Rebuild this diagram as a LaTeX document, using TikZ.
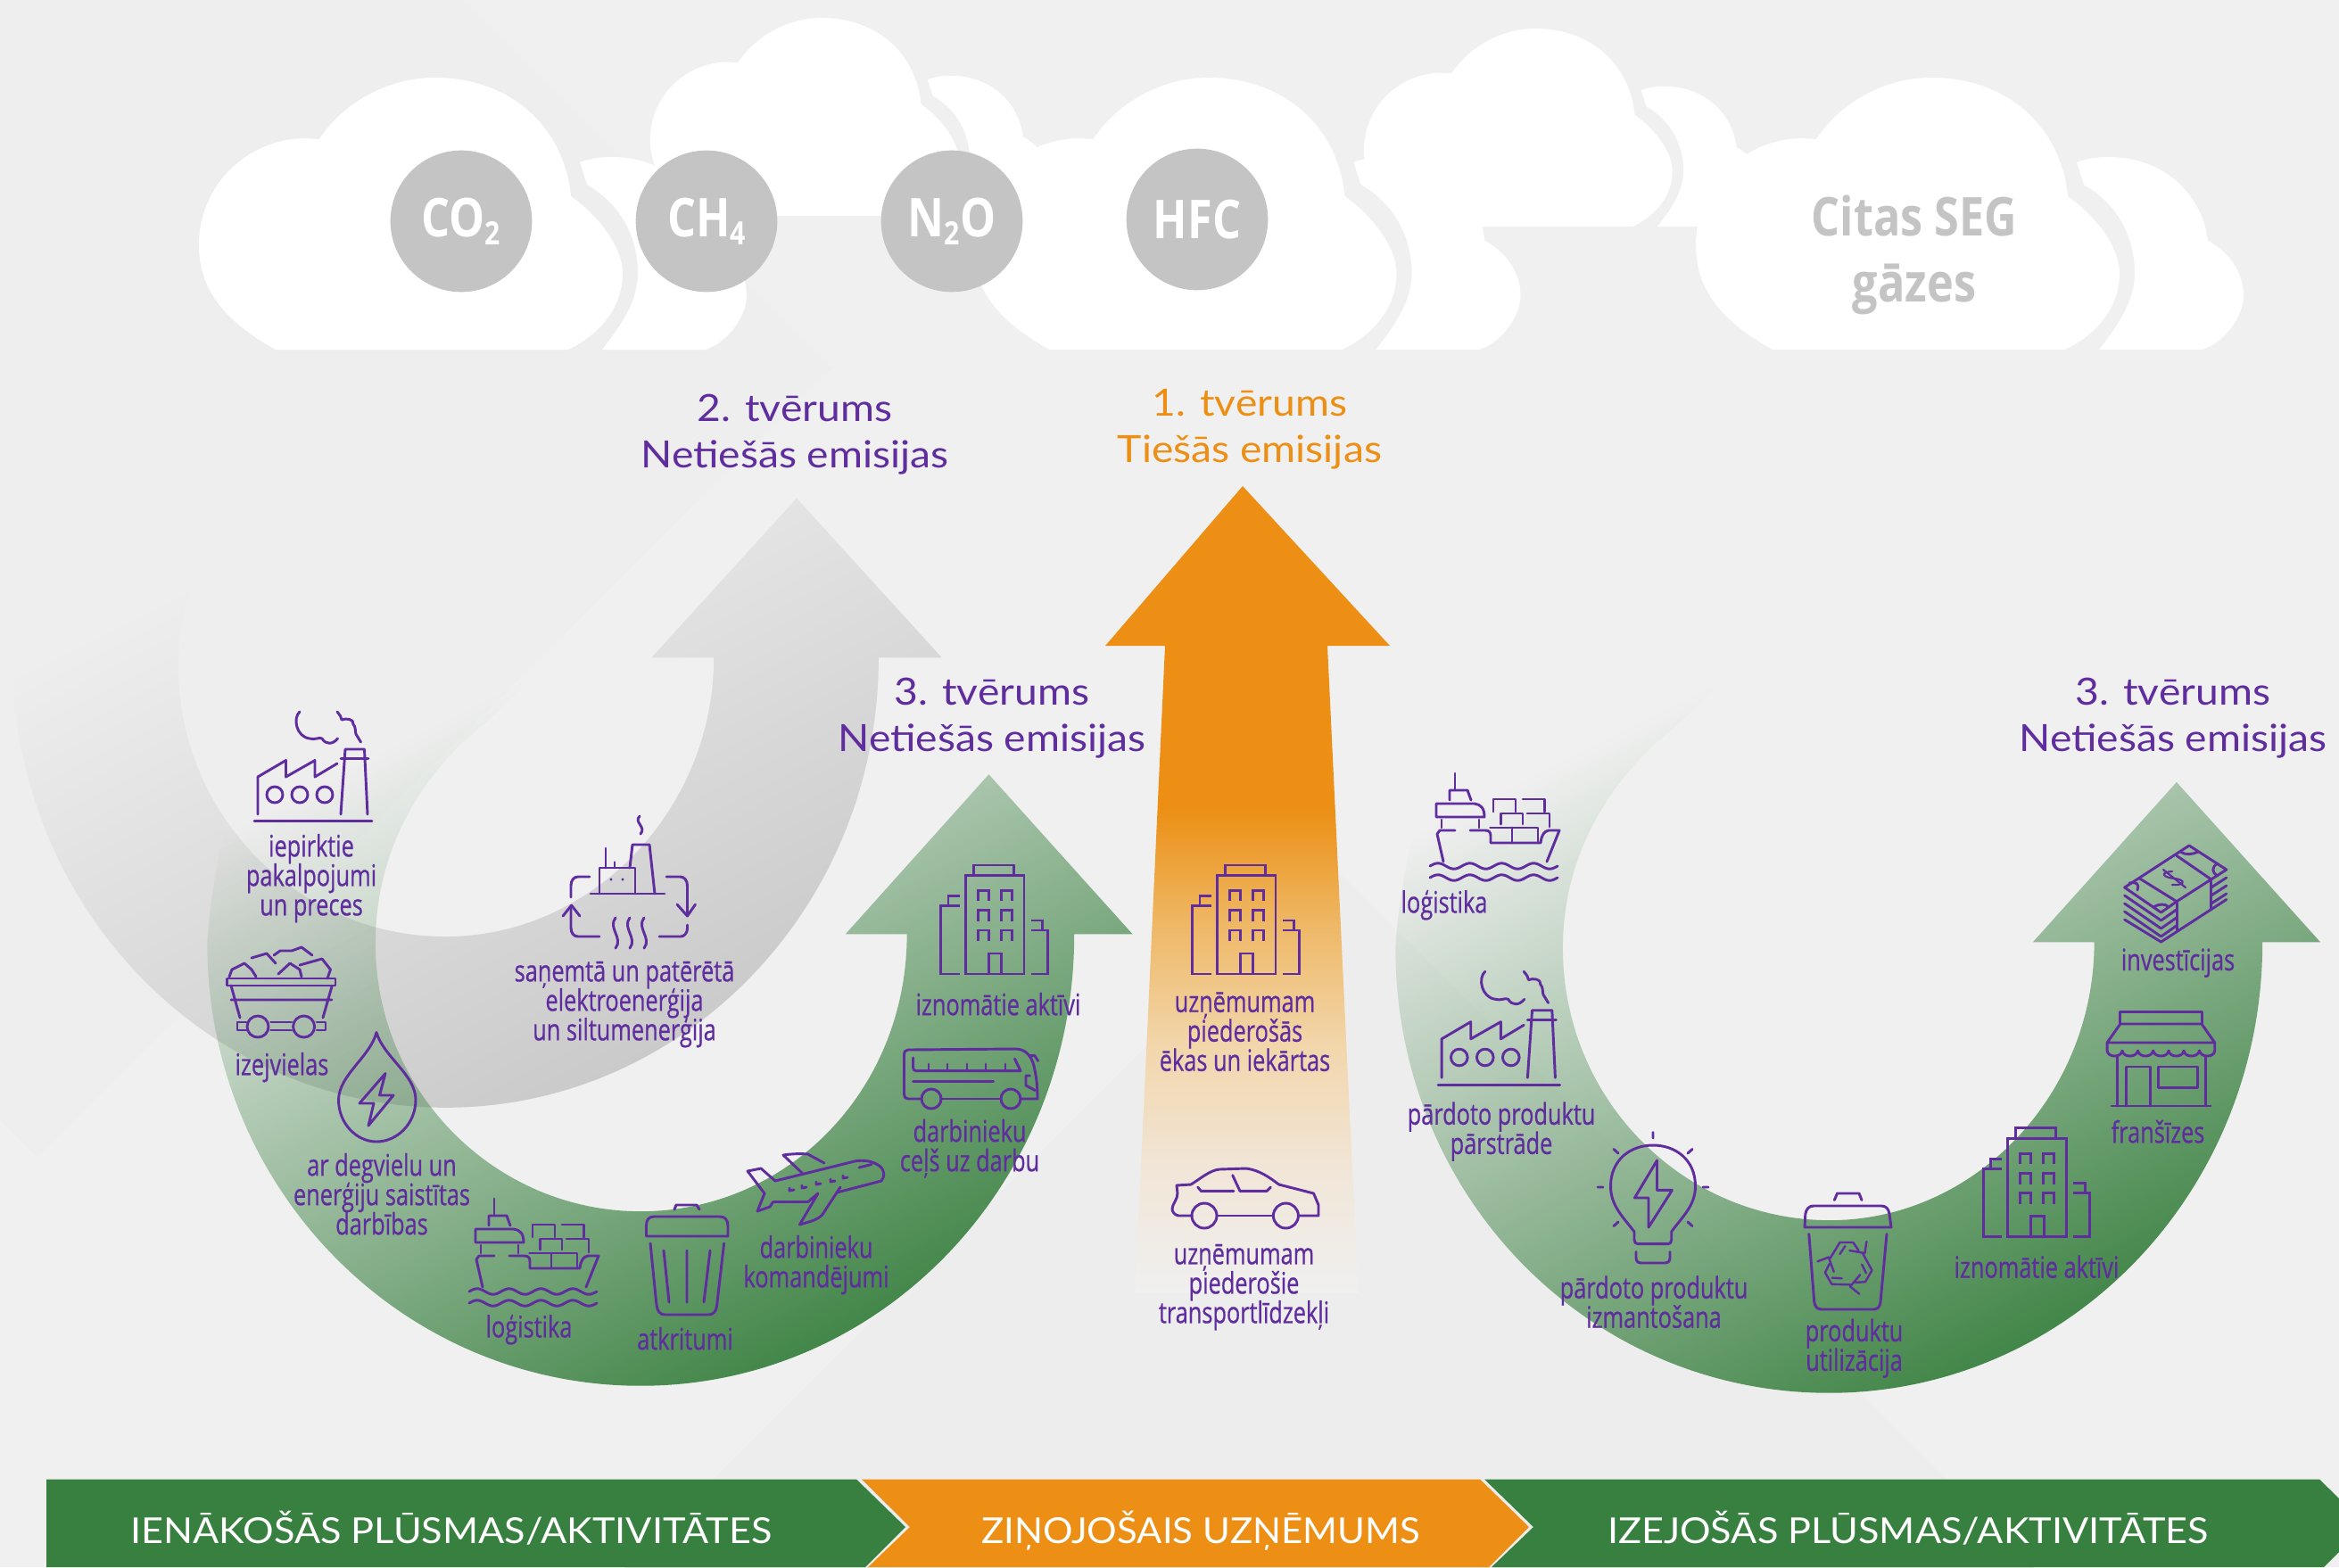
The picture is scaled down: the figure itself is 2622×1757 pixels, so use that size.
\documentclass[tikz,border=0pt]{standalone}
\usepackage{fontspec}
\usetikzlibrary{fadings}
\setmainfont{Lato}
\newcommand\nolsk{\lineskiplimit -100pt\relax}
\newfontfamily\condf[FakeStretch=0.76,FakeBold=0.6]{Open Sans}
\newfontfamily\condb[FakeStretch=0.84]{Open Sans}
\newfontfamily\headf[FakeStretch=1.10]{Lato}
\newfontfamily\barf[FakeStretch=1.08]{Lato}
\definecolor{bgc}{HTML}{F0F0F0}
\definecolor{bgd}{HTML}{EDEDED}
\definecolor{purp}{HTML}{5F2D9E}
\definecolor{gr}{HTML}{38803F}
\definecolor{org}{HTML}{EC8F14}
\definecolor{gasg}{HTML}{C4C4C4}
\definecolor{arrg}{HTML}{C9C9C9}
\definecolor{of1}{HTML}{F0ECE6}
\definecolor{of2}{HTML}{F1E5D6}
\definecolor{of3}{HTML}{F2D6AB}
\definecolor{of4}{HTML}{EEB866}
\pgfdeclareverticalshading{orfade}{100bp}{color(0bp)=(bgc);color(25bp)=(bgc);color(28bp)=(of1);color(33bp)=(of2);color(40.4bp)=(of3);color(47.8bp)=(of4);color(55.1bp)=(org);color(100bp)=(org)}
\tikzfading[name=gf, top color=transparent!100, bottom color=transparent!0]
\tikzset{
 ico/.style={draw=purp,line width=2.2pt,line cap=round,line join=round},
 lbl/.style={font=\condf\fontsize{25}{24.75}\selectfont\nolsk,align=center,text=purp,inner sep=0pt,yshift=-2pt},
 head/.style={font=\headf\fontsize{31.5}{39}\selectfont\nolsk,align=center,inner sep=0pt,yshift=-2.2pt},
 gas/.style={circle,fill=gasg,inner sep=0pt,minimum size=119pt,text=white,font=\condb\bfseries\fontsize{45}{50}\selectfont},
 bar/.style={font=\barf\fontsize{30}{32}\selectfont,text=white,inner sep=0pt,anchor=base},
}
\newcommand\CloudMain{\fill[white] (309,392) .. controls (252,360) and (223,325) .. (223,275) .. controls (223,205) and (280,155) .. (343,155) -- (358,156) .. controls (385,115) and (435,87) .. (487,87) .. controls (570,87) and (632,140) .. (640,220) .. controls (675,245) and (698,280) .. (698,306) .. controls (698,345) and (672,375) .. (637,392) -- cycle;}
\newcommand\CloudBack{\fill[white] (650,182) .. controls (660,178) and (672,176) .. (686,176) .. controls (745,176) and (790,215) .. (797,270) .. controls (825,285) and (837,310) .. (837,331) .. controls (837,355) and (815,385) .. (790,392) -- (675,392) .. controls (700,360) and (715,335) .. (715,306) .. controls (715,265) and (695,228) .. (658,207) -- cycle;}
\newcommand\IcoFactory{
 \draw[ico] (285,920.5) -- (417,920.5);
 \draw[ico] (382,913) -- (387,840) -- (408.5,840) -- (412,913);
 \draw[ico] (382,850.5) -- (413,850.5);
 \draw[ico] (289,913) -- (289,871) -- (320.5,852.5) -- (320.5,871) -- (353,852.5) -- (353,871) -- (378,856);
 \draw[ico] (308,891) circle[radius=9] (336,891) circle[radius=9] (364,891) circle[radius=9];
 \draw[ico] (336,798) .. controls (328,805) and (332,826) .. (347,828) .. controls (353,830) and (358,826) .. (361,828) .. controls (365,835) and (373,835) .. (378.5,828);
 \draw[ico] (378,798) .. controls (381,802) and (383,804) .. (383,807) .. controls (388,805) and (397,806) .. (396,812) .. controls (399,815) and (398,820) .. (399,823) -- (404.5,832);
}
\newcommand\IcoShip{
 \draw[ico] (1631,867) -- (1631,886);
 \draw[ico] (1625,897) -- (1625,886) -- (1645,886) -- (1649,897);
 \draw[ico] (1610,901) -- (1653,901) .. controls (1660,902) and (1664,906) .. (1664,916) -- (1610,916) -- cycle;
 \draw[ico] (1616,919) -- (1616,928) (1658,919) -- (1658,928);
 \draw[ico] (1631,931) -- (1614,931) -- (1611,935) -- (1618,966);
 \draw[ico] (1648,931) -- (1665,931) .. controls (1669,931) and (1671,933) .. (1671,937) -- (1671,945) -- (1727,945) .. controls (1728,936) and (1731,932) .. (1736,931) -- (1748,931) -- (1734,966);
 \draw[ico] (1670.5,928) -- (1724,928) -- (1724,945) (1695,928) -- (1695,945);
 \draw[ico] (1682.5,924) -- (1682.5,912) -- (1707,912) -- (1707,924) (1712,912) -- (1737,912) -- (1737,927);
 \draw[ico] (1674,910) -- (1674,896) -- (1699,896) -- (1699,910) (1707,896) -- (1731.5,896) -- (1731.5,910);
 \draw[ico] plot[domain=0:143,samples=70] ({\x+1603},{971-3.2*sin(\x/143*4*360)});
 \draw[ico] plot[domain=0:143,samples=70] ({\x+1603},{984-3.2*sin(\x/143*4*360)});
}
\newcommand\IcoBuilding{
 \draw[ico,line cap=butt,line join=miter] (1082.4,981.4) rectangle (1148,1092);
 \draw[ico,line cap=butt,line join=miter] (1091.6,981.4) -- (1091.6,970) -- (1136.5,970) -- (1136.5,981.4);
 \foreach \c in {1096.6,1122.3}\foreach \r in {998.4,1020.7,1043}
   \draw[ico,line cap=butt,line join=miter] (\c,\r+12) -- (\c,\r) -- (\c+11.8,\r) -- (\c+11.8,\r+12);
 \draw[ico,line cap=butt,line join=miter] (1108.5,1092) -- (1108.5,1069) -- (1122.8,1069) -- (1122.8,1092);
 \draw[ico,line cap=butt,line join=miter] (1075.5,1092) -- (1054.8,1092) -- (1054.8,1015.4) -- (1075.5,1015.4) (1063,1015.4) -- (1063,1004.2) -- (1075.5,1004.2);
 \draw[ico,line cap=butt,line join=miter] (1155.8,1092) -- (1174.2,1092) -- (1174.2,1043) -- (1155.8,1043) (1168.7,1043) -- (1168.7,1032) -- (1155.8,1032);
}
\begin{document}
\begin{tikzpicture}[x=0.75pt,y=-0.75pt]
\useasboundingbox (0,0) rectangle (2622,1757);
\fill[bgc] (0,0) rectangle (2622,1757);
% background chevrons
\fill[bgd!60!bgc] (0,0) -- (518,0) -- (932,413) -- (42,1297) -- (0,1255) -- cycle;
\fill[bgd] (1490,968) -- (2300,1778) -- (680,1778) -- cycle;
% clouds
\begin{scope}[shift={(566.6,-43.3)},scale=.728]\CloudMain\CloudBack\end{scope}
\begin{scope}[shift={(1366.6,-31.3)},scale=.728]\CloudMain\CloudBack\end{scope}
\CloudMain\CloudBack
\begin{scope}[shift={(867.5,0)}]\CloudBack\CloudMain\end{scope}
\begin{scope}[shift={(1678,0)}]\CloudMain\CloudBack\end{scope}
\node[gas] (co2) at (517,248) {CO{\fontsize{27}{27}\selectfont\raisebox{-7pt}{2}}};
\node[gas] (ch4) at (792,248) {CH{\fontsize{27}{27}\selectfont\raisebox{-7pt}{4}}};
\node[gas] (n2o) at (1067,248) {N{\fontsize{27}{27}\selectfont\raisebox{-7pt}{2}}O};
\node[gas] (hfc) at (1342,246) {HFC};
\node[inner sep=0pt,align=center,text=gasg,font=\condb\bfseries\fontsize{45}{55.5}\selectfont\nolsk] (seg) at (2146,286) {Citas SEG\\gāzes};
% grey arrow
\fill[arrg,path fading=gf,fit fading=false,fading transform={shift={(502,922)},rotate=27,scale=10.9}]
 (986,736) .. controls (986,1015) and (768,1241) .. (500,1241) .. controls (232,1241) and (14,1015) .. (14,736)
 .. controls (14,650) and (40,560) .. (56,532) -- (219,456) -- (311,505) .. controls (250,560) and (200,650) .. (200,745)
 .. controls (200,913) and (334,1049) .. (500,1049) .. controls (666,1049) and (801,905) .. (801,736)
 -- (731,736) -- (894,557) -- (1057,736) -- cycle;
% left green arrow
\fill[gr,path fading=gf,fit fading=false,fading transform={shift={(720,1182)},rotate=27,scale=13}]
 (1206,1044.5) .. controls (1206,1327) and (988,1552) .. (719,1552) .. controls (450,1552) and (232,1330) .. (232,1055)
 .. controls (238,955) and (268,855) .. (301,797) .. controls (347,715) and (467,615) .. (617,555) -- (689,585)
 .. controls (672,675) and (597,765) .. (529,820) .. controls (467,875) and (421,955) .. (421,1055)
 .. controls (421,1221) and (555,1356) .. (719,1356) .. controls (884,1356) and (1018,1220) .. (1018,1044.5)
 -- (949,1044.5) -- (1110,865) -- (1271.5,1044.5) -- cycle;
% right green arrow
\fill[gr,path fading=gf,fit fading=false,fading transform={shift={(2052,1187)},rotate=27,scale=13}]
 (2538,1053.5) .. controls (2538,1335) and (2320,1560) .. (2051,1560) .. controls (1782,1560) and (1564,1340) .. (1564,1060)
 .. controls (1570,960) and (1600,860) .. (1634,802) .. controls (1680,720) and (1800,620) .. (1950,560) -- (2022,590)
 .. controls (2005,680) and (1930,770) .. (1862,825) .. controls (1800,880) and (1752,960) .. (1752,1060)
 .. controls (1752,1230) and (1887,1366) .. (2052,1366) .. controls (2215,1366) and (2349,1225) .. (2349,1053.5)
 -- (2280,1053.5) -- (2441.5,873.7) -- (2603,1053.5) -- cycle;
% orange arrow
\shade[shading=orfade] (1393,545) -- (1558,724) -- (1488,724) -- (1522.5,1450) -- (1272.5,1450) -- (1306,724) -- (1239,724) -- cycle;
% headings
\node[head,text=purp] (h2) at (891,484) {2. tvērums\\Netiešās emisijas};
\node[head,text=org] (h1) at (1401,478.5) {1. tvērums\\Tiešās emisijas};
\node[head,text=purp] (h3a) at (1112,802.5) {3. tvērums\\Netiešās emisijas};
\node[head,text=purp] (h3b) at (2436,802.5) {3. tvērums\\Netiešās emisijas};
% bottom band
\fill[gr] (52,1658.5) -- (960,1658.5) -- (1015,1712) -- (970,1757) -- (52,1757) -- cycle;
\fill[org] (966,1658.5) -- (1659,1658.5) -- (1714,1712) -- (1669,1757) -- (973,1757) -- (1020,1712) -- cycle;
\fill[gr] (1664,1658.5) -- (2600,1658.5) -- (2622,1680) -- (2622,1740) -- (2605,1757) -- (1672,1757) -- (1719,1712) -- cycle;
\node[bar] (b1) at (506,1730) {IENĀKOŠĀS PLŪSMAS/AKTIVITĀTES};
\node[bar] (b2) at (1346,1730) {\scalebox{.97}[1]{ZIŅOJOŠAIS UZŅĒMUMS}};
\node[bar] (b3) at (2139,1730) {IZEJOŠĀS PLŪSMAS/AKTIVITĀTES};
% icons
\IcoFactory
\begin{scope}[shift={(1317,263.3)},scale=1.035]\IcoFactory\end{scope}
\IcoShip
\begin{scope}[shift={(-1077,477)}]\IcoShip\end{scope}
\begin{scope}[shift={(0,0)}]\IcoBuilding\end{scope}
\begin{scope}[shift={(282,0)}]\IcoBuilding\end{scope}
\begin{scope}[shift={(1168.3,294.9)}]\IcoBuilding\end{scope}
% mine cart
\draw[ico] (254.5,1097) rectangle (376,1105);
\draw[ico] (259,1105) -- (269,1141) (372,1106) -- (362,1141) (259,1121) -- (372,1121);
\draw[ico] (289,1151) circle[radius=12] (340.6,1151) circle[radius=12];
\draw[ico] (303.6,1146) -- (327,1146) (303.6,1155) -- (327,1155);
\draw[ico] (276,1146) -- (266,1146) -- (266,1155) -- (276,1155) (355,1146) -- (365,1146) -- (365,1155) -- (355,1155);
\draw[ico] (257,1095) -- (260,1087) -- (274,1080) -- (282,1087) -- (287,1095);
\draw[ico] (282,1074) -- (299,1069) -- (309,1080);
\draw[ico] (307,1071) -- (314,1066) -- (327,1066) -- (338,1062) -- (350,1071);
\draw[ico] (312,1092) -- (325,1080) -- (336,1087) -- (338,1095);
\draw[ico] (336,1082) -- (361,1075) -- (370.5,1087) -- (367,1097);
% drop
\draw[ico] (422,1157.5) .. controls (415,1185) and (380,1205) .. (379.5,1233) .. controls (379.5,1260) and (400,1280) .. (422,1280) .. controls (445,1280) and (466,1260) .. (466,1233) .. controls (466,1205) and (430,1185) .. (422,1157.5) -- cycle;
\draw[ico] (432,1203.5) -- (403,1237) -- (419,1237) -- (413,1262) -- (441,1228) -- (425.5,1228) -- cycle;
% heat and power
\draw[ico] (662,1002) -- (745,1002);
\draw[ico] (672,1002) -- (672,973) -- (712,973) -- (712,1002);
\draw[ico] (679,951) -- (679,973) (689,966.6) -- (689,973);
\fill[purp] (685,986) circle[radius=1.6] (698,986) circle[radius=1.6];
\draw[ico] (706,973) -- (709,947) -- (728,947) -- (734,1002);
\draw[ico] (717,915) .. controls (710,922) and (725,927) .. (718,935);
\draw[ico] (747,983) -- (762.5,983) .. controls (767,983) and (770.5,987) .. (770.5,993) -- (770.5,1024);
\draw[ico] (759,1014) -- (770.5,1027) -- (779.5,1014);
\draw[ico] (770.5,1037) -- (770.5,1041) .. controls (770.5,1046) and (767,1050) .. (763,1050) -- (739,1050);
\draw[ico] (672,1050) -- (648,1050) .. controls (643,1050) and (640,1046) .. (640,1040) -- (640,1018);
\draw[ico] (631,1027) -- (640.6,1015) -- (650,1027);
\draw[ico] (661,983) -- (648,983) .. controls (643,983) and (640,987) .. (640,993) -- (640,1006);
\foreach \hx in {690,706,722}
 \draw[ico] (\hx,1029) .. controls (\hx-9,1040) and (\hx+9,1052) .. (\hx,1063);
% bin
\draw[ico] (756,1356) -- (758,1351) -- (781,1351) -- (784,1356);
\draw[ico] (724.5,1386) -- (724.5,1374.5) .. controls (724.5,1368) and (727,1364) .. (733,1364) -- (807,1364) .. controls (813,1364) and (816,1368) .. (816,1374.5) -- (816,1386) -- cycle;
\draw[ico] (729,1394) -- (736,1463.5) .. controls (737,1470) and (740,1474) .. (745,1474) -- (794,1474) .. controls (800,1474) and (803,1470) .. (803.6,1463.5) -- (811.6,1394);
\draw[ico] (744,1402) -- (750,1460) (770,1402) -- (770,1460) (796,1402) -- (789,1460);
% plane
\draw[ico] (869,1324) -- (958,1302) .. controls (968,1300) and (978,1302) .. (984,1306) .. controls (992,1310) and (992,1320) .. (988,1324) -- (938,1337);
\draw[ico] (869,1324) -- (853,1310) -- (838,1313) -- (857,1338) -- (849,1358) -- (863,1353) -- (866.6,1347.5) -- (905.6,1347.5) -- (917,1338) -- (896.4,1373) -- (910,1369) .. controls (915,1367) and (919,1365) .. (921.7,1362) -- (942,1331);
\draw[ico] (924,1304) -- (905.6,1294) .. controls (895,1293) and (885,1294) .. (878,1295) -- (899,1315);
\draw[ico] (963,1309) -- (977,1305.5);
\foreach \px/\py in {885/1332,899/1329,915/1325,931/1322,945/1318}
 \draw[ico] (\px,\py) -- (\px,\py+3) -- (\px+5,\py+2);
% bus
\draw[ico] (1032,1232) -- (1018,1232) .. controls (1015,1232) and (1013.5,1230) .. (1013.5,1227) -- (1013.5,1183) .. controls (1013.5,1179) and (1015,1177) .. (1018,1177) -- (1138,1176) .. controls (1150,1176) and (1156,1184) .. (1159,1195) .. controls (1162,1208) and (1163,1218) .. (1163,1232) -- (1144,1232);
\draw[ico] (1055,1232) -- (1121,1232);
\draw[ico] (1044,1232) circle[radius=11] (1133,1232) circle[radius=11];
\draw[ico] (1023.6,1186) -- (1023.6,1197) .. controls (1023.6,1199.6) and (1025,1200.6) .. (1027,1200.6) -- (1144,1200.6) -- (1137.5,1187);
\foreach \tx in {1041,1062,1084,1105,1127} \draw[ico] (\tx,1193) -- (\tx,1200.6);
\draw[ico] (1023.6,1212.7) -- (1113.6,1212.7);
\draw[ico] (1153.5,1183.6) -- (1160,1183.6) -- (1163.6,1189.5);
\draw[ico] (1154.5,1206) -- (1150,1206) -- (1150,1217) -- (1160.4,1222.5);
% car
\draw[ico] (1336,1363) -- (1321,1363) .. controls (1316,1362) and (1314,1358) .. (1314,1355.5) .. controls (1314,1350) and (1320,1345) .. (1320,1338) -- (1319,1329) -- (1335,1328) .. controls (1345,1322) and (1356,1312) .. (1367,1311) -- (1397,1310) .. controls (1412,1312) and (1423,1320) .. (1433.6,1328) -- (1472.6,1338) -- (1478,1351) -- (1478,1363) -- (1456.6,1363);
\draw[ico] (1365,1363) -- (1426.7,1363);
\draw[ico] (1350,1363) circle[radius=14] (1441.4,1363) circle[radius=14];
\draw[ico] (1342.7,1331) -- (1346.4,1335.4) -- (1383,1335.4) (1390,1335.4) -- (1420,1335.4) -- (1424.4,1331);
\draw[ico] (1381.7,1317.6) -- (1390,1335.4);
% bulb
\draw[ico] (1832,1381) .. controls (1820,1365) and (1805.5,1352) .. (1805.5,1330) .. controls (1805.5,1300) and (1828,1284) .. (1853,1284) .. controls (1878,1284) and (1900.5,1300) .. (1900.5,1330) .. controls (1900.5,1352) and (1885,1365) .. (1873.7,1381) -- (1873.7,1390) .. controls (1873.7,1393) and (1872,1394.6) .. (1870,1394.6) -- (1836,1394.6) .. controls (1833.5,1394.6) and (1832,1393) .. (1832,1390) -- cycle;
\draw[ico] (1834,1403.6) -- (1834,1410) .. controls (1834,1414) and (1836,1416) .. (1840,1416) -- (1866,1416) .. controls (1870,1416) and (1872,1414) .. (1872,1410) -- (1872,1403.6);
\draw[ico] (1857.5,1301) -- (1832.4,1343) -- (1848,1343) -- (1848,1376) -- (1874.4,1334.4) -- (1857.5,1334.4) -- cycle;
\draw[ico] (1853,1269.6) -- (1853,1276) (1791,1331) -- (1797,1331) (1909,1331) -- (1915,1331) (1809,1288.4) -- (1814,1293) (1897,1288.4) -- (1892,1293) (1809,1374.6) -- (1814,1370) (1897,1374.6) -- (1892,1370);
% recycling bin
\draw[ico] (2056.3,1345.5) -- (2059.5,1338) -- (2084,1338) -- (2087,1345.5);
\draw[ico] (2023,1376) -- (2023.8,1361) .. controls (2025,1355) and (2028,1352) .. (2033,1352) -- (2109,1352) .. controls (2114,1352) and (2117,1355) .. (2118,1361) -- (2120,1376) -- cycle;
\draw[ico] (2027.8,1383.5) -- (2033.7,1459.4) .. controls (2034.5,1465) and (2037,1468) .. (2042,1468) -- (2100,1468) .. controls (2105,1468) and (2107.5,1465) .. (2108,1459.4) -- (2115,1383.5);
\foreach \ra in {0,120,240}{
 \begin{scope}[shift={(2071.4,1419)},rotate=\ra]
  \draw[ico,line width=1.8pt] (-20,-8) -- (-9,-26) -- (6,-26) -- (12,-17) (2,-17) -- (19,-14) -- (21,-27);
  \draw[ico,line width=1.8pt] (-9,-13) -- (-3,-22);
 \end{scope}}
% shop
\draw[ico] (2376.8,1148) -- (2376.8,1134.4) -- (2468,1134.4) -- (2468,1148);
\draw[ico] (2376.8,1148) -- (2468,1148) -- (2482.7,1169) -- (2362,1169) -- cycle;
\draw[ico] (2362,1169) -- (2362,1178) .. controls (2363,1186) and (2378,1186) .. (2379,1178) .. controls (2380,1186) and (2395,1186) .. (2396.5,1178) .. controls (2398,1186) and (2412,1186) .. (2413.7,1178) .. controls (2415,1186) and (2430,1186) .. (2431,1178) .. controls (2432,1186) and (2447,1186) .. (2448,1178) .. controls (2449,1186) and (2464,1186) .. (2465.5,1178) .. controls (2467,1186) and (2482,1186) .. (2482.7,1178) -- (2482.7,1169);
\draw[ico] (2373.6,1185) -- (2373.6,1240) (2472,1185) -- (2472,1240) (2367,1240) -- (2478,1240);
\draw[ico] (2383.6,1240) -- (2383.6,1196) -- (2410.5,1196) -- (2410.5,1240);
\draw[ico] (2419.3,1196) rectangle (2463,1219.6);
% money
\draw[ico] (2381.6,995) -- (2454,948) -- (2495.8,975) -- (2440,1010.7) -- (2422.5,1023) -- cycle;
\draw[ico] (2398.6,985) -- (2440,1010.7) (2440,959.4) -- (2478.8,986);
\draw[ico] (2440,1010.7) -- (2440,1044) (2478.8,986) -- (2478.8,1019.6);
\foreach \k in {9,18,27}{
 \draw[ico] (2381.6,995+\k) -- (2422.5,1023+\k) -- (2440,1010.7+\k);
 \draw[ico] (2478.8,986+\k) -- (2495.8,975+\k);
}
\draw[ico] (2381.6,1031) -- (2422.5,1056) -- (2495.8,1008.5);
\draw[ico] (2387,990) .. controls (2396,988) and (2398,992) .. (2396,998);
\draw[ico] (2414,1017) .. controls (2420,1013) and (2428,1013) .. (2431,1017);
\draw[ico] (2444,955) .. controls (2450,959) and (2458,958) .. (2464,955);
\draw[ico] (2486,968) .. controls (2479,972) and (2479,978) .. (2486,982);
\draw[ico,line width=1.6pt] (2435,977) .. controls (2420,978) and (2425,984) .. (2438,985) .. controls (2452,987) and (2448,993) .. (2435,992);
\draw[ico,line width=1.6pt] (2425,975) -- (2450,995);
% labels
\node[lbl] (l1) at (349,982) {iepirktie\\pakalpojumi\\un preces};
\node[lbl] (l2) at (316,1194) {izejvielas};
\node[lbl] (l3) at (428,1336) {ar degvielu un\\enerģiju saistītas\\darbības};
\node[lbl] (l4) at (700,1123.5) {saņemtā un patērētā\\elektroenerģija\\un siltumenerģija};
\node[lbl] (l5) at (593,1488) {loģistika};
\node[lbl] (l6) at (768,1498) {atkritumi};
\node[lbl] (l7) at (915,1415.5) {darbinieku\\komandējumi};
\node[lbl] (l8) at (1087,1285) {darbinieku\\ceļš uz darbu};
\node[lbl] (l9) at (1119,1123) {iznomātie aktīvi};
\node[lbl] (l10) at (1395.5,1154) {uzņēmumam\\piederošās\\ēkas un iekārtas};
\node[lbl] (l11) at (1394.5,1440.5) {uzņēmumam\\piederošie\\transportlīdzekļi};
\node[lbl] (l12) at (1619,1012) {loģistika};
\node[lbl] (l13) at (1683,1266) {pārdoto produktu\\pārstrāde};
\node[lbl] (l14) at (1854,1457) {pārdoto produktu\\izmantošana};
\node[lbl] (l15) at (2078.5,1509) {produktu\\utilizācija};
\node[lbl] (l16) at (2283,1417.5) {iznomātie aktīvi};
\node[lbl] (l17) at (2419,1266) {franšīzes};
\node[lbl] (l18) at (2441.5,1077) {investīcijas};
\end{tikzpicture}
\end{document}
